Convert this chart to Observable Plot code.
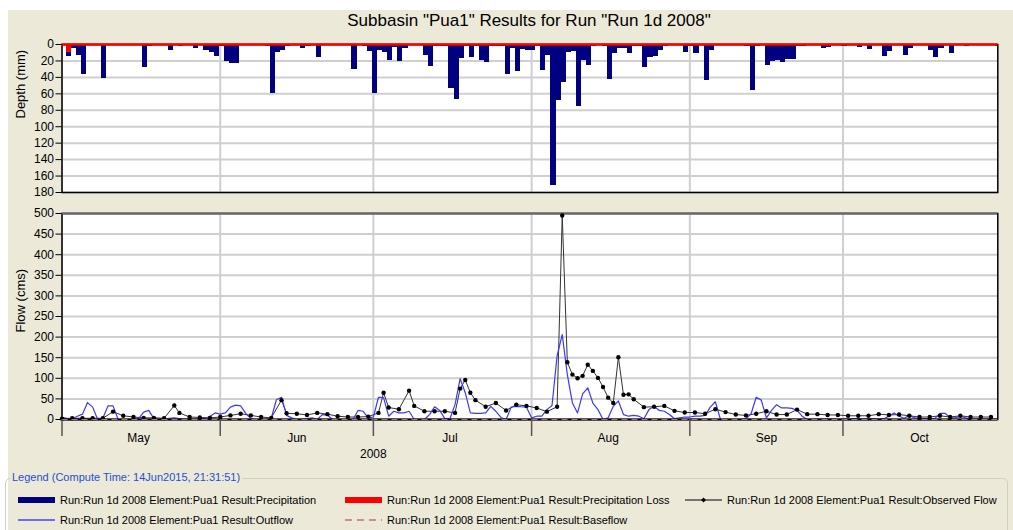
<!DOCTYPE html>
<html><head><meta charset="utf-8">
<script src="https://cdn.jsdelivr.net/npm/d3@7"></script>
<script src="https://cdn.jsdelivr.net/npm/@observablehq/plot@0.6"></script>
<style>
html,body{margin:0;padding:0;width:1013px;height:530px;overflow:hidden;background:#fff;font-family:"Liberation Sans",Arial,sans-serif;}
#panel{position:absolute;left:8px;top:10px;width:1005px;height:520px;background:#ECE9D8;}
#title{position:absolute;left:0;top:11px;width:1058px;text-align:center;font-size:17px;color:#000;}
#topchart,#bottomchart{position:absolute;left:0;}
#topchart{top:0}
#bottomchart{top:200px}
#legend{position:absolute;left:5px;top:478px;width:1003px;height:60px;border:1px solid #D0D0BF;border-radius:5px;box-sizing:border-box;}
#lgtitle{position:absolute;left:10px;top:470px;font-size:11px;color:#1F4FD0;background:#ECE9D8;padding:0 2px;line-height:14px;}
.item{position:absolute;font-size:11px;color:#000;line-height:14px;white-space:nowrap;}
.sw{position:absolute;}
svg{overflow:visible}
</style></head><body>
<div id="panel"></div>
<div id="title">Subbasin "Pua1" Results for Run "Run 1d 2008"</div>
<div id="topchart"></div>
<div id="bottomchart"></div>
<div id="legend"></div>
<div id="lgtitle">Legend (Compute Time: 14Jun2015, 21:31:51)</div>
<div id="items"></div>
<script>
// ---------- data ----------
const startDate = "2008-05-01";
const endDate = "2008-10-31T08:00";
const months = ["May","Jun","Jul","Aug","Sep","Oct"];
const monthStarts = ["2008-05-01","2008-06-01","2008-07-01","2008-08-01","2008-09-01","2008-10-01"];
const monthMids = ["2008-05-16","2008-06-16","2008-07-16","2008-08-16","2008-09-16","2008-10-16"];
const yearLabel = "2008";
const yearLabelDate = "2008-07-01";
const depthTicks = [0,20,40,60,80,100,120,140,160,180];
const flowTicks = [0,50,100,150,200,250,300,350,400,450,500];

// daily precipitation depth (mm), day 0 = May 1
const precip = [
 15,5,13,37,0,0,0,41,0,0,
 0,0,0,0,0,28,2,0,0,0,
 7,0,2.5,0,0,5,0,7,10,15,
 2,21,23,23,0,0,0,0,0,3,
 60,10,7,3,0,0,5,3,0,16,
 0,0,0,0,0,0,30,0,3,8,
 60,7,10,19,4,21,5,0,0,0,
 13,27,2,3,2,53,67,17,2,16,
 3,20,22,2,3,3,36,5,33,6,
 7,7,2,32,13,172,68,46,10,8,
 75,20,26,2,0,2,42,11,5,5,
 11,2,2,28,16,14,7,3,0,0,
 0,10,3,11,0,44,7,0,0,0,
 0,0,0,3,56,3,0,25,21,19,
 22,18,18,3,2,0,0,0,5,4,
 0,0,3,0,0,4,0,6,0,0,
 15,9,0,0,13,5,0,0,0,7,
 16,5,0,11,0,0,3,0,0,0,
 0,0,3,0
];
// precipitation loss (mm)
const lossDays = [0];
const lossValues = [10];

// daily simulated outflow (cms), day 0 = May 1
const outflow = [
 5,3,2,8,13,41,30,0,3,33,
 33,0,0,0,0,2,18,22,2,0,
 0,3,4,2,1,1,1,1,2,8,
 16,13,16,30,35,33,15,2,0,0,
 0,3,48,54,10,4,0,0,2,4,
 0,12,11,0,0,0,0,0,22,20,
 4,6,54,53,8,20,16,16,20,0,
 0,0,12,31,22,2,2,36,99,65,
 16,15,15,16,32,20,5,0,30,32,
 31,30,4,8,8,24,34,155,206,109,
 40,16,62,77,40,24,0,4,32,45,
 12,8,10,8,2,24,32,22,20,12,
 2,4,6,6,8,8,10,30,43,0,
 0,0,0,0,2,14,54,47,4,22,
 36,28,28,27,22,8,0,0,1,1,
 1,1,0,1,1,2,2,1,2,2,
 1,2,8,16,8,3,10,4,2,2,
 2,2,15,15,4,4,8,4,1,1,
 1,1,1,1
];
// observed flow (cms)
const obsDays = [0,2,4,6,8,10,12,14,16,18,20,22,23,25,27,29,31,33,35,37,39,41,43,44,46,48,50,52,54,56,58,60,62,63,64,66,68,69,71,73,75,77,78,79,80,81,83,85,87,89,91,93,95,97,98,99,100,101,102,103,104,105,106,107,108,109,110,111,112,114,116,118,120,122,124,126,128,130,132,134,136,138,140,142,144,146,148,150,152,154,156,158,160,162,164,166,168,170,172,174,176,178,180,182];
const obsFlow = [2,3,3,3,3,19,9,6,4,4,3,34,16,6,5,4,6,10,14,10,6,4,47,15,14,11,16,13,8,6,6,7,16,65,29,25,70,33,20,20,20,16,75,96,65,47,31,40,22,36,33,28,19,31,495,139,109,100,106,133,118,101,79,53,40,151,60,61,49,30,31,33,21,17,17,14,25,18,12,10,14,20,12,12,24,13,13,11,11,9,9,9,13,11,12,9,6,6,9,6,9,6,6,6];
const baseflow = [0];

const legendItems = [
 {label:"Run:Run 1d 2008 Element:Pua1 Result:Precipitation", kind:"bar", color:"#000080", x:18, y:500},
 {label:"Run:Run 1d 2008 Element:Pua1 Result:Precipitation Loss", kind:"bar", color:"#FF0000", x:345, y:500},
 {label:"Run:Run 1d 2008 Element:Pua1 Result:Observed Flow", kind:"marker", color:"#000000", x:685, y:500},
 {label:"Run:Run 1d 2008 Element:Pua1 Result:Outflow", kind:"line", color:"#4040FF", x:18, y:520},
 {label:"Run:Run 1d 2008 Element:Pua1 Result:Baseflow", kind:"dash", color:"#B07878", x:345, y:520}
];

// ---------- build ----------
const DAY = 864e5;
const t0 = new Date(startDate).getTime();
const dayDate = d => new Date(t0 + d * DAY);
const xDomain = [new Date(startDate), new Date(endDate + "Z")];
const mStarts = monthStarts.map(d => new Date(d));
const mMids = monthMids.map(d => new Date(d));

const barData = precip.map((v, i) => ({x1: dayDate(i + 0.8), x2: dayDate(i + 1.8), v}));
const lossData = lossDays.map((d, i) => ({x1: dayDate(d + 0.8), x2: dayDate(d + 1.8), v: lossValues[i]}));
const outData = outflow.map((v, i) => ({date: dayDate(i), flow: v}));
const obsData = obsDays.map((d, i) => ({date: dayDate(d), flow: obsFlow[i]}));

const font = '"Liberation Sans", Arial, sans-serif';
const gridStyle = {stroke: "#cfcfcf", strokeOpacity: 1, strokeWidth: 2};

const depthChart = Plot.plot({
  width: 1013, height: 200,
  marginLeft: 61.5, marginRight: 15.7, marginTop: 44, marginBottom: 8,
  style: {background: "transparent", fontFamily: font, fontSize: "12px", color: "#000"},
  x: {type: "utc", domain: xDomain, axis: null},
  y: {domain: [0, 180], reverse: true, axis: null},
  marks: [
    Plot.frame({fill: "white", stroke: null}),
    Plot.gridY(depthTicks, gridStyle),
    Plot.gridX(mStarts, gridStyle),
    Plot.rect(barData, {x1: "x1", x2: "x2", y1: 0, y2: "v", fill: "#000080", clip: true, shapeRendering: "crispEdges"}),
    Plot.rect(lossData, {x1: "x1", x2: "x2", y1: 0, y2: "v", fill: "#FF0000", clip: true, shapeRendering: "crispEdges"}),
    Plot.frame({stroke: "#000", strokeWidth: 1.5}),
    Plot.ruleY([0], {stroke: "#FF0000", strokeWidth: 2.5}),
    Plot.axisY(depthTicks, {anchor: "left", tickSize: 6, tickPadding: 2, label: null, fontSize: 12}),
    Plot.text(["Depth (mm)"], {frameAnchor: "left", dx: -41.5, rotate: -90, fontSize: 13})
  ]
});
document.getElementById("topchart").append(depthChart);

const flowChart = Plot.plot({
  width: 1013, height: 270,
  marginLeft: 61.5, marginRight: 15.7, marginTop: 13, marginBottom: 51,
  style: {background: "transparent", fontFamily: font, fontSize: "12px", color: "#000"},
  x: {type: "utc", domain: xDomain, axis: null},
  y: {domain: [0, 500], axis: null},
  marks: [
    Plot.frame({fill: "white", stroke: null}),
    Plot.gridY(flowTicks, gridStyle),
    Plot.gridX(mStarts, gridStyle),
    Plot.frame({stroke: "#000", strokeWidth: 1.5}),
    Plot.ruleY([500], {stroke: "#666", strokeWidth: 2}),
    Plot.line(obsData, {x: "date", y: "flow", stroke: "#333", strokeWidth: 1}),
    Plot.line(outData, {x: "date", y: "flow", stroke: "#3A3AFF", strokeWidth: 1.2}),
    Plot.dot(obsData, {x: "date", y: "flow", r: 2.2, fill: "#000", stroke: null}),
    Plot.ruleY([0], {stroke: "#000", strokeWidth: 2}),
    Plot.ruleY(baseflow, {stroke: "#B07878", strokeWidth: 1.2, strokeDasharray: "6,4"}),
    Plot.axisY(flowTicks, {anchor: "left", tickSize: 6, tickPadding: 2, label: null, fontSize: 12}),
    Plot.axisX(mStarts, {anchor: "bottom", tickSize: 17, tickFormat: () => "", stroke: "#555", strokeWidth: 1.5, label: null}),
    Plot.axisX(mMids, {anchor: "bottom", tickSize: 0, tickPadding: 14, tickFormat: d => months[d.getUTCMonth() - 4], label: null, fontSize: 12}),
    Plot.text([yearLabel], {x: () => new Date(yearLabelDate), frameAnchor: "bottom", dy: 38, fontSize: 12}),
    Plot.text(["Flow (cms)"], {frameAnchor: "left", dx: -41.5, dy: 16, rotate: -90, fontSize: 13})
  ]
});
document.getElementById("bottomchart").append(flowChart);

// legend
const items = document.getElementById("items");
for (const it of legendItems) {
  const sw = document.createElementNS("http://www.w3.org/2000/svg", "svg");
  sw.setAttribute("width", 38); sw.setAttribute("height", 10);
  sw.setAttribute("class", "sw");
  sw.style.left = it.x + "px"; sw.style.top = (it.y - 5) + "px";
  if (it.kind === "bar") sw.innerHTML = `<rect x="0" y="2" width="37" height="6" fill="${it.color}"/>`;
  else if (it.kind === "line") sw.innerHTML = `<line x1="0" x2="37" y1="5" y2="5" stroke="${it.color}" stroke-width="1.5"/>`;
  else if (it.kind === "dash") sw.innerHTML = `<line x1="0" x2="37" y1="5" y2="5" stroke="${it.color}" stroke-width="1.5" stroke-dasharray="7,5"/>`;
  else sw.innerHTML = `<line x1="0" x2="37" y1="5" y2="5" stroke="${it.color}" stroke-width="1.2"/><path d="M18.5 2.5 L21 5 L18.5 7.5 L16 5 Z" fill="${it.color}"/>`;
  items.append(sw);
  const t = document.createElement("div");
  t.className = "item";
  t.textContent = it.label;
  t.style.left = (it.x + 42) + "px"; t.style.top = (it.y - 7) + "px";
  items.append(t);
}
</script>
</body></html>
